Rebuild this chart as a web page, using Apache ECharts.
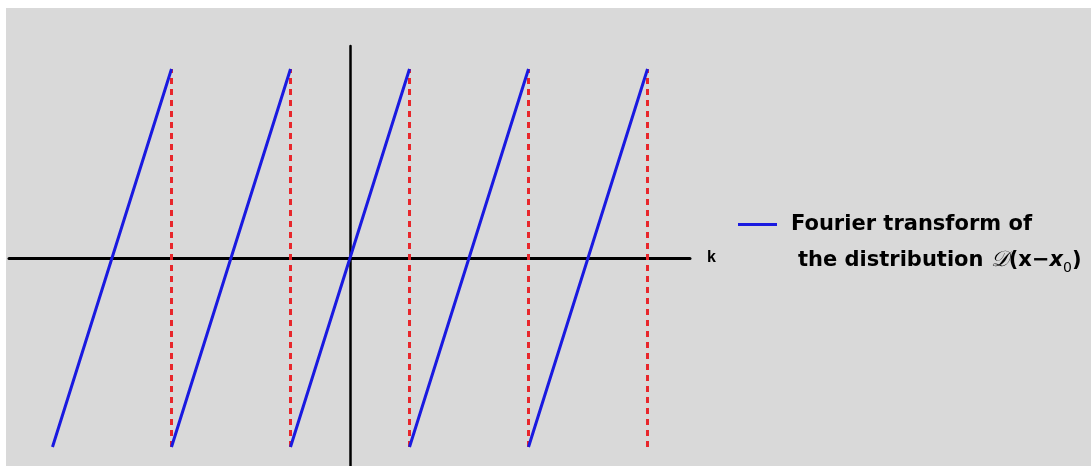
<!DOCTYPE html>
<html lang="en">

<head>
  <meta charset="UTF-8">
  <title>Fourier transform of the distribution</title>
  <style>
    html, body { margin: 0; padding: 0; background: #fff; }
    #chart { position: absolute; left: 6px; top: 8px; width: 1085px; height: 458px; }
  </style>
</head>

<body>
  <div id="chart"></div>
  <script src="https://cdn.jsdelivr.net/npm/echarts@6/dist/echarts.min.js"></script>
  <script>
    // sawtooth segments (k in units of half a period)
    var segStartK = [-5, -3, -1, 1, 3];
    var segEndK = [-3, -1, 1, 3, 5];
    var segLowY = [-1, -1, -1, -1, -1];
    var segHighY = [1, 1, 1, 1, 1];
    // discontinuities -> red dashed verticals
    var jumpK = [-3, -1, 1, 3, 5];
    var kRange = [-5.731, 5.714];
    var yRange = [-1.1005, 1.1217];

    var blueData = [];
    for (var i = 0; i < segStartK.length; i++) {
      blueData.push([segStartK[i], segLowY[i]]);
      blueData.push([segEndK[i], segHighY[i]]);
      blueData.push([segEndK[i], '-']);
    }
    var redData = [];
    for (var j = 0; j < jumpK.length; j++) {
      redData.push([jumpK[j], -1]);
      redData.push([jumpK[j], 1]);
      redData.push([jumpK[j], '-']);
    }

    var chart = echarts.init(document.getElementById('chart'));
    var option = {
      backgroundColor: '#d9d9d9',
      animation: false,
      grid: { left: 3, top: 38, width: 681, bottom: 0 },
      xAxis: {
        type: 'value',
        min: kRange[0],
        max: kRange[1],
        name: 'k',
        nameLocation: 'end',
        nameGap: 17,
        nameTextStyle: { color: '#000', fontWeight: 'bold', fontSize: 16, fontFamily: 'Liberation Sans' },
        axisLine: { onZero: true, lineStyle: { color: '#000', width: 3 } },
        axisTick: { show: false },
        axisLabel: { show: false },
        splitLine: { show: false }
      },
      yAxis: {
        type: 'value',
        min: yRange[0],
        max: yRange[1],
        axisLine: { show: true, onZero: true, lineStyle: { color: '#000', width: 2.5 } },
        axisTick: { show: false },
        axisLabel: { show: false },
        splitLine: { show: false }
      },
      legend: {
        data: ['Fourier transform of the distribution'],
        left: 732,
        top: 170,
        padding: 0,
        icon: 'rect',
        itemWidth: 39,
        itemHeight: 3,
        formatter: function () {
          return '{e| }\n{p| }{a|Fourier transform of}\n{q| }{a|the distribution }{d|𝒟}{a|(x−}{i|x}{s|0}{a|)}';
        },
        textStyle: {
          color: '#000',
          rich: {
            e: { lineHeight: 36, fontSize: 21 },
            p: { width: 9, lineHeight: 36 },
            q: { width: 16, lineHeight: 36 },
            a: { fontFamily: 'DejaVu Sans', fontWeight: 'bold', fontSize: 21, lineHeight: 36, color: '#000' },
            d: { fontFamily: 'DejaVu Serif', fontStyle: 'italic', fontSize: 22, lineHeight: 36, color: '#000' },
            i: { fontFamily: 'DejaVu Sans', fontWeight: 'bold', fontStyle: 'italic', fontSize: 21, lineHeight: 36, color: '#000' },
            s: { fontFamily: 'DejaVu Sans', fontSize: 14, lineHeight: 14, verticalAlign: 'bottom', padding: [0, 0, 3, 0], color: '#000' }
          }
        }
      },
      series: [
        {
          name: 'jumps',
          type: 'line',
          data: redData,
          symbol: 'none',
          silent: true,
          lineStyle: { color: '#e8262b', width: 3, type: [6, 5] }
        },
        {
          name: 'Fourier transform of the distribution',
          type: 'line',
          data: blueData,
          symbol: 'none',
          color: '#1a1ae0',
          lineStyle: { color: '#1a1ae0', width: 3 }
        }
      ]
    };
    chart.setOption(option);
  </script>
</body>

</html>
